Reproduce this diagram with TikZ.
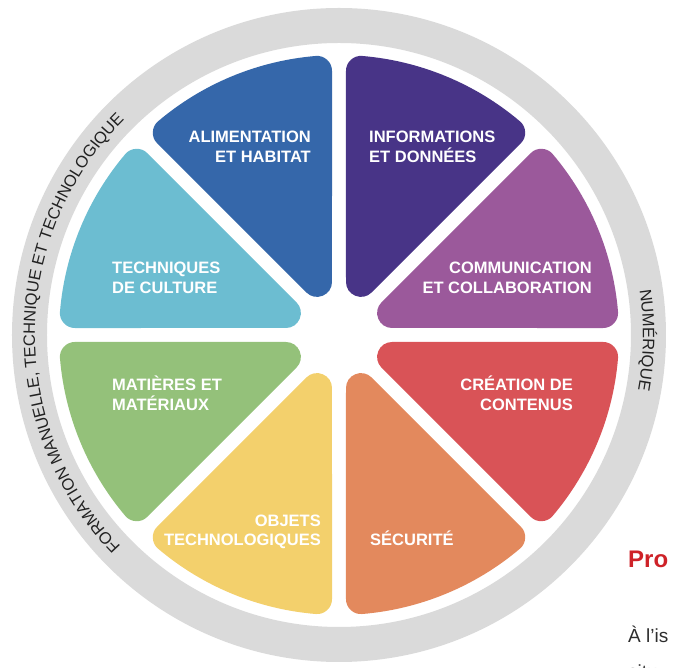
\documentclass[tikz,border=0pt]{standalone}
\usepackage{fontspec}
\setmainfont{Liberation Sans}
\usetikzlibrary{decorations.text}
\definecolor{ringgray}{RGB}{218,218,218}
\definecolor{ringtext}{RGB}{34,34,34}
\definecolor{cAlim}{RGB}{53,103,170}
\definecolor{cInfo}{RGB}{72,52,135}
\definecolor{cComm}{RGB}{155,89,155}
\definecolor{cCrea}{RGB}{217,83,87}
\definecolor{cSecu}{RGB}{227,137,93}
\definecolor{cObj}{RGB}{243,208,108}
\definecolor{cMat}{RGB}{148,193,122}
\definecolor{cTech}{RGB}{108,189,209}
\definecolor{proRed}{RGB}{206,34,40}
\definecolor{bodyText}{RGB}{45,45,45}
\newcommand{\ringfont}{\fontsize{16.5}{19}\selectfont\color{ringtext}}
\tikzset{
  lbl/.style={font=\fontsize{16.5}{19}\selectfont\bfseries, text=white, inner sep=0pt},
  wedge/.style={fill=#1, draw=#1, line width=30pt, line join=round},
  ringtxt/.style={decorate, decoration={text along path, text={#1}, text align=center}}
}
\begin{document}
\begin{tikzpicture}[x=1pt,y=1pt]
\useasboundingbox (-339,-333) rectangle (334,335);
\clip (-339,-333) rectangle (334,335);
% ring
\fill[ringgray, even odd rule] (0,0) circle[radius=327] (0,0) circle[radius=292];
% wedges
\foreach \a/\c in {90/cAlim, 45/cInfo, 0/cComm, -45/cCrea, -90/cSecu, -135/cObj, 180/cMat, 135/cTech} {
  \path[wedge=\c] ({\a+22.5}:57.5) -- ({\a+4.76}:265)
     arc[start angle={\a+4.76}, end angle={\a+40.24}, radius=265] -- cycle;
}
% ring texts
\path[ringtxt={|\ringfont|FORMATION MANUELLE, TECHNIQUE ET TECHNOLOGIQUE}]
  (239.5:304) arc[start angle=239.5, end angle=119.5, radius=304];
\path[ringtxt={|\ringfont|NUMÉRIQUE}]
  (19:304) arc[start angle=19, end angle=-21, radius=304];
% labels
\node[lbl, anchor=base east] (alim1) at (-28,192) {ALIMENTATION};
\node[lbl, anchor=base east] (alim2) at (-28,172) {ET HABITAT};
\node[lbl, anchor=base west] (info1) at (30,192) {INFORMATIONS};
\node[lbl, anchor=base west] (info2) at (30,172) {ET DONNÉES};
\node[lbl, anchor=base west] (tech1) at (-227,61) {TECHNIQUES};
\node[lbl, anchor=base west] (tech2) at (-227,41) {DE CULTURE};
\node[lbl, anchor=base east] (comm1) at (253,61) {COMMUNICATION};
\node[lbl, anchor=base east] (comm2) at (253,41) {ET COLLABORATION};
\node[lbl, anchor=base west] (mat1) at (-227,-56) {MATIÈRES ET};
\node[lbl, anchor=base west] (mat2) at (-227,-76) {MATÉRIAUX};
\node[lbl, anchor=base east] (crea1) at (234,-56) {CRÉATION DE};
\node[lbl, anchor=base east] (crea2) at (234,-76) {CONTENUS};
\node[lbl, anchor=base east] (obj1) at (-18,-192) {OBJETS};
\node[lbl, anchor=base east] (obj2) at (-18,-211) {TECHNOLOGIQUES};
\node[lbl, anchor=base west] (secu) at (31,-211) {SÉCURITÉ};
% side text
\node[anchor=base west, inner sep=0pt, font=\fontsize{24}{28}\selectfont\bfseries, text=proRed] (pro) at (289,-233) {Pro};
\node[anchor=base west, inner sep=0pt, font=\fontsize{19}{23}\selectfont, text=bodyText] (isl) at (289,-308) {À l'is};
\node[anchor=base west, inner sep=0pt, font=\fontsize{19}{23}\selectfont, text=bodyText] (situ) at (289,-344) {situ};
\end{tikzpicture}
\end{document}
